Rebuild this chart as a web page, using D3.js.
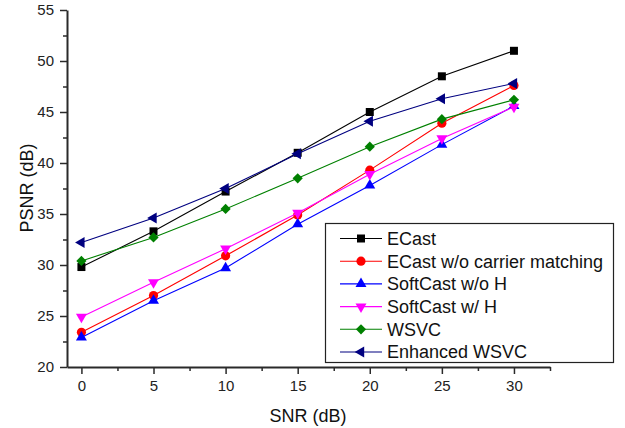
<!DOCTYPE html>
<html>
<head>
<meta charset="utf-8">
<script src="https://cdn.jsdelivr.net/npm/d3@7"></script>
<style>
  body { margin: 0; background: #fff; }
  svg { display: block; font-family: "Liberation Sans", Arial, sans-serif; }
  .axis path, .axis line { stroke: #2a2a2a; }
  .axis text { fill: #222; font-size: 15px; }
</style>
</head>
<body>
<div id="chart"></div>
<script>
/* SNR (dB) on x, PSNR (dB) on y */
const snr = [0, 5, 10, 15, 20, 25, 30];
const ecast        = [29.8, 33.3, 37.2, 41.0, 45.0, 48.5, 51.0];
const ecastNoMatch = [23.4, 27.0, 30.9, 34.9, 39.3, 43.9, 47.6];
const softNoH      = [22.9, 26.5, 29.7, 34.0, 37.8, 41.8, 45.6];
const softH        = [24.9, 28.3, 31.6, 35.1, 38.9, 42.4, 45.5];
const wsvc         = [30.4, 32.7, 35.5, 38.5, 41.6, 44.3, 46.2];
const enhWsvc      = [32.2, 34.6, 37.5, 40.9, 44.1, 46.3, 47.8];

const seriesNames = ['ECast', 'ECast w/o carrier matching', 'SoftCast w/o H', 'SoftCast w/ H', 'WSVC', 'Enhanced WSVC'];
const seriesValues = [ecast, ecastNoMatch, softNoH, softH, wsvc, enhWsvc];
const seriesColors = ['#000000', '#ff0000', '#0000ff', '#ff00ff', '#008000', '#000080'];
const seriesMarkers = ['square', 'circle', 'up', 'down', 'diamond', 'left'];

const xTicks = [0, 5, 10, 15, 20, 25, 30];
const yTicks = [20, 25, 30, 35, 40, 45, 50, 55];

const W = 625, H = 428;
const svg = d3.select('#chart').append('svg').attr('width', W).attr('height', H);

const x = d3.scaleLinear().domain([-1, 32.5]).range([67, 550]);
const y = d3.scaleLinear().domain([20, 55]).range([367, 10]);

/* minor ticks */
svg.append('g').attr('class', 'axis').attr('transform', 'translate(0,367)')
  .call(d3.axisBottom(x).tickValues(d3.range(2.5, 33, 5)).tickSize(4).tickFormat(''))
  .call(g => g.select('.domain').remove())
  .selectAll('line').attr('stroke-width', 1.5);
svg.append('g').attr('class', 'axis').attr('transform', 'translate(67,0)')
  .call(d3.axisLeft(y).tickValues(d3.range(22.5, 55, 5)).tickSize(4).tickFormat(''))
  .call(g => g.select('.domain').remove())
  .selectAll('line').attr('stroke-width', 1.5);

/* major axes */
const xAxis = svg.append('g').attr('class', 'axis').attr('transform', 'translate(0,367)')
  .call(d3.axisBottom(x).tickValues(xTicks).tickSize(7).tickSizeOuter(0).tickPadding(6));
xAxis.select('.domain').attr('stroke-width', 2);
xAxis.selectAll('line').attr('stroke-width', 1.5);

const yAxis = svg.append('g').attr('class', 'axis').attr('transform', 'translate(67,0)')
  .call(d3.axisLeft(y).tickValues(yTicks).tickSize(7).tickSizeOuter(0).tickPadding(6));
yAxis.select('.domain').attr('stroke-width', 2);
yAxis.selectAll('line').attr('stroke-width', 1.5);

/* axis titles */
svg.append('text').attr('x', 308).attr('y', 422).attr('text-anchor', 'middle')
  .style('font-size', '18px').attr('fill', '#111').text('SNR (dB)');
svg.append('text').attr('transform', 'translate(33,188) rotate(-90)').attr('text-anchor', 'middle')
  .style('font-size', '18px').attr('fill', '#111').text('PSNR (dB)');

/* markers */
function marker(sel, type, color) {
  const rot = { up: 0, down: 180, left: -90 };
  let p;
  if (type === 'square') p = sel.append('path').attr('d', d3.symbol(d3.symbolSquare, 64)());
  else if (type === 'circle') p = sel.append('path').attr('d', d3.symbol(d3.symbolCircle, 66)());
  else if (type === 'diamond') p = sel.append('path').attr('d', d3.symbol(d3.symbolSquare, 52)()).attr('transform', 'rotate(45)');
  else p = sel.append('path').attr('d', d3.symbol(d3.symbolTriangle, 52)()).attr('transform', `rotate(${rot[type]})`);
  p.attr('fill', color);
}

const line = d3.line().x((d, i) => x(snr[i])).y(d => y(d));

seriesValues.forEach((vals, si) => {
  const g = svg.append('g');
  g.append('path').attr('d', line(vals)).attr('fill', 'none')
    .attr('stroke', seriesColors[si]).attr('stroke-width', 1.1);
  vals.forEach((v, i) => {
    const m = g.append('g').attr('transform', `translate(${x(snr[i])},${y(v)})`);
    marker(m, seriesMarkers[si], seriesColors[si]);
  });
});

/* legend */
const lg = svg.append('g');
lg.append('rect').attr('x', 325.5).attr('y', 223.5).attr('width', 288).attr('height', 139)
  .attr('fill', '#fff').attr('stroke', '#222').attr('stroke-width', 1.2);
seriesNames.forEach((name, i) => {
  const cy = 238.5 + i * 22.7;
  const row = lg.append('g').attr('transform', `translate(0,${cy})`);
  row.append('line').attr('x1', 340).attr('x2', 382).attr('stroke', seriesColors[i]).attr('stroke-width', 1.1);
  const m = row.append('g').attr('transform', 'translate(361,0)');
  marker(m, seriesMarkers[i], seriesColors[i]);
  row.append('text').attr('x', 387).attr('dy', '0.35em').style('font-size', '18px')
    .attr('fill', '#111').text(name);
});
</script>
</body>
</html>
